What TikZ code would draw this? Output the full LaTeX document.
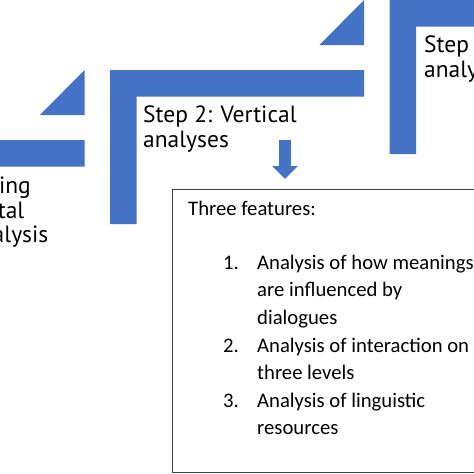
\documentclass[tikz,border=0pt]{standalone}
\usepackage{fontspec}
\setmainfont{Carlito}
\newfontfamily\stepfont{PT Sans}
\usepackage{xcolor}
\usepackage{tikz}
\usetikzlibrary{arrows.meta,positioning}
\definecolor{stepblue}{HTML}{4472C4}
\definecolor{boxline}{HTML}{404040}
\tikzset{
  steplabel/.style={anchor=base west,inner sep=0pt,font=\stepfont\fontsize{23.5}{25}\selectfont},
  boxtext/.style={anchor=base west,inner sep=0pt,font=\fontsize{20.7}{27.6}\selectfont},
}

\begin{document}
\begin{tikzpicture}[x=1pt,y=-1pt]
  \useasboundingbox (0,0) rectangle (474,474);
  \clip (0,0) rectangle (474,474);
  % three stair steps, shifted up and right
  \foreach \i in {0,1,2}{
    \begin{scope}[shift={(-169.5+279.5*\i,140-70*\i)}]
      \fill[stepblue] (0,0) -- (254,0) -- (254,26.5) -- (26.5,26.5) -- (26.5,154) -- (0,154) -- cycle;
      \fill[stepblue] (209.5,-25) -- (254,-25) -- (254,-70) -- cycle;
    \end{scope}
  }
  \node[steplabel,anchor=base east] (step1a) at (31,193.3) {ing};
  \node[steplabel,anchor=base east] (step1b) at (24.5,218) {tal};
  \node[steplabel,anchor=base east] (step1c) at (48.5,242.7) {alysis};
  \node[steplabel] (step2) at (143,122.7) {\begin{tabular}[t]{@{}l@{}}Step 2: Vertical\\analyses\end{tabular}};
  \node[steplabel] (step3) at (424,52.7) {\begin{tabular}[t]{@{}l@{}}Step\\analy\end{tabular}};
  % feature box
  \node[draw=boxline,line width=0.8pt,anchor=north west,inner sep=0pt,
        minimum width=400pt,minimum height=283pt] (feat) at (172,189) {};
  \node[boxtext] (three) at (188,215.7) {Three features:};
  \node[boxtext] (items) at (223,269.3) {\begin{tabular}[t]{@{}p{34pt}@{}l@{}}
    1. & Analysis of how meanings\\
       & are influenced by\\
       & dialogues\\
    2. & Analysis of interaction on\\
       & three levels\\
    3. & Analysis of linguistic\\
       & resources
  \end{tabular}};
  \coordinate (arrtop) at (285,140);
  \draw[stepblue,line width=12pt,-{Triangle[width=25pt,length=13pt]},shorten >=10pt]
    (arrtop) -- (arrtop |- feat.north);
\end{tikzpicture}
\end{document}
